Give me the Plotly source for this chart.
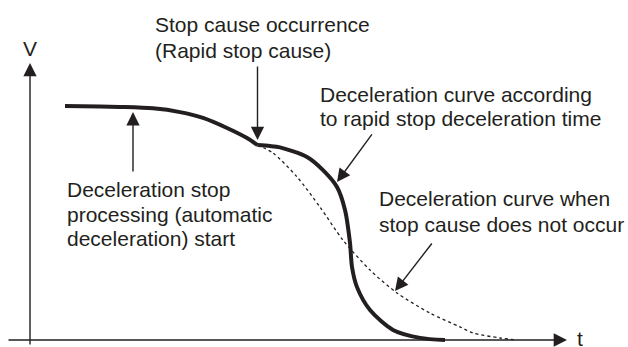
import plotly.graph_objects as go

# solid curve: automatic deceleration up to the stop cause
pre_t = [7.0, 14.0, 18.0, 24.6, 30.0, 34.6, 39.4, 43.4, 45.5]
pre_v = [100.0, 99.8, 99.6, 99.0, 97.4, 94.9, 90.6, 86.3, 83.3]

# solid curve: rapid stop deceleration after the stop cause
rapid_t = [45.5, 48.0, 50.0, 55.4, 58.6, 61.4, 63.0, 64.0, 64.4, 65.4, 68.0, 72.6, 78.0, 83.0]
rapid_v = [83.3, 82.9, 82.3, 78.2, 72.6, 65.4, 55.6, 41.5, 31.2, 22.6, 12.8, 4.3, 0.9, 0.0]

# dotted curve: deceleration when no stop cause occurs
normal_t = [45.5, 48.6, 53.4, 58.0, 62.6, 68.0, 73.4, 80.0, 86.0, 88.6, 94.0, 97.4]
normal_v = [83.3, 79.9, 69.7, 56.8, 42.7, 29.9, 20.1, 11.5, 5.6, 3.0, 0.85, 0.0]

INK = '#231f20'
FONT = 'Liberation Sans, Arial, sans-serif'
FS = 21

fig = go.Figure()

for t, v in [(pre_t, pre_v), (rapid_t, rapid_v)]:
    fig.add_trace(
        go.Scatter(
            x=t, y=v,
            mode='lines',
            line=dict(color=INK, width=4, shape='spline', smoothing=0.8),
            showlegend=False,
            hoverinfo='skip'
        )
    )

fig.add_trace(
    go.Scatter(
        x=normal_t, y=normal_v,
        mode='lines',
        line=dict(color=INK, width=1.3, dash='dot', shape='spline', smoothing=0.8),
        showlegend=False,
        hoverinfo='skip'
    )
)

annotations = []


def arrow(x0, y0, x1, y1):
    annotations.append(dict(
        x=x1, y=y1, ax=x0, ay=y0,
        xref='x', yref='y', axref='x', ayref='y',
        text='', showarrow=True,
        arrowhead=2, arrowsize=1.9, arrowwidth=1.4, arrowcolor=INK,
        standoff=0
    ))


def label(x, y, txt, anchor='left'):
    annotations.append(dict(
        x=x, y=y, xref='x', yref='y',
        text=txt, showarrow=False,
        xanchor=anchor, yanchor='middle',
        font=dict(family=FONT, size=FS, color=INK)
    ))


# axes
arrow(0, -2.6, 0, 118.4)
arrow(-4.6, 0, 107.4, 0)
label(0, 124.5, 'V', 'center')
label(108.9, 0.6, 't')

# pointers
arrow(45.5, 117.5, 45.5, 85.5)
arrow(68.6, 88.5, 61.4, 67.5)
arrow(80.6, 41.9, 73.0, 20.9)
arrow(20.6, 71.4, 20.6, 97.4)

label(24.5, 134.8, 'Stop cause occurrence')
label(24.5, 123.7, '(Rapid stop cause)')
label(57.6, 104.9, 'Deceleration curve according')
label(57.6, 94.8, 'to rapid stop deceleration time')
label(69.4, 60.3, 'Deceleration curve when')
label(69.4, 49.4, 'stop cause does not occur')
label(7.0, 64.5, 'Deceleration stop')
label(7.0, 53.8, 'processing (automatic')
label(7.0, 43.2, 'deceleration) start')

fig.update_layout(
    width=628,
    height=347,
    margin=dict(l=0, r=0, t=0, b=0),
    paper_bgcolor='white',
    plot_bgcolor='white',
    xaxis=dict(range=[-6, 119.6], visible=False, fixedrange=True),
    yaxis=dict(range=[-2.99, 145.3], visible=False, fixedrange=True),
    annotations=annotations,
    showlegend=False
)

# the page's default body margin would push the figure off by 8px
fig.write_html(
    "out.html",
    config=dict(displayModeBar=False),
    post_script="document.body.style.margin='0';document.body.style.overflow='hidden';"
)
